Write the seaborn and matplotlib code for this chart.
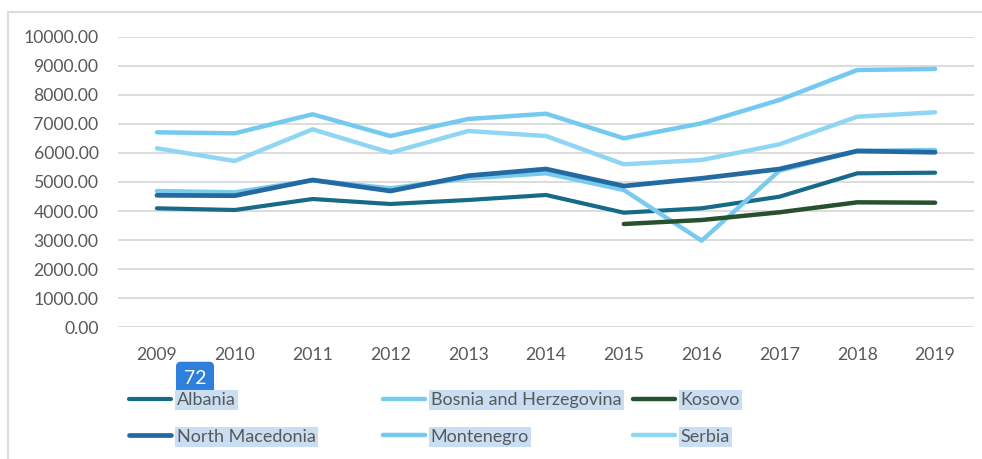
import pandas as pd
import numpy as np
import seaborn as sns
import matplotlib.pyplot as plt
from matplotlib.patches import Rectangle

years = [2009, 2010, 2011, 2012, 2013, 2014, 2015, 2016, 2017, 2018, 2019]

albania = [4095, 4036, 4415, 4243, 4381, 4553, 3944, 4095, 4494, 5299, 5320]
bosnia = [4690, 4645, 5060, 4783, 5127, 5299, 4725, 2980, 5389, 6070, 6101]
kosovo = [np.nan, np.nan, np.nan, np.nan, np.nan, np.nan, 3555, 3692, 3957, 4301, 4288]
north_macedonia = [4542, 4529, 5069, 4690, 5217, 5447, 4862, 5127, 5447, 6067, 6022]
montenegro = [6710, 6676, 7330, 6583, 7168, 7350, 6504, 7020, 7822, 8854, 8889]
serbia = [6160, 5723, 6813, 6009, 6755, 6583, 5609, 5757, 6297, 7247, 7398]

countries = ['Albania', 'Bosnia and Herzegovina', 'Kosovo',
             'North Macedonia', 'Montenegro', 'Serbia']
colors = ['#176b88', '#79cbee', '#27502f', '#236aa3', '#73c9ef', '#8fd5f4']
widths = [3.0, 3.2, 3.2, 3.4, 3.2, 3.2]

df = pd.DataFrame({'year': years, 'Albania': albania,
                   'Bosnia and Herzegovina': bosnia, 'Kosovo': kosovo,
                   'North Macedonia': north_macedonia,
                   'Montenegro': montenegro, 'Serbia': serbia})
long = df.melt(id_vars='year', var_name='country', value_name='value').dropna()

sns.set_theme(style='white')
plt.rcParams['font.family'] = ['Lato', 'DejaVu Sans']
grey = '#595959'

fig = plt.figure(figsize=(9.82, 4.59), dpi=100)
ax = fig.add_axes([118/982, 1-327.3/459, (974-118)/982, (327.3-36.7)/459])

for c, col, lw in zip(countries, colors, widths):
    sns.lineplot(data=long[long.country == c], x='year', y='value', color=col,
                 linewidth=lw, label=c, ax=ax, legend=False,
                 solid_capstyle='round')

ax.set_ylim(0, 10000)
ax.set_xlim(2008.5, 2019.5)
ax.set_yticks(np.arange(0, 10001, 1000))
ax.set_yticklabels([f'{v:.2f}' for v in np.arange(0, 10001, 1000)])
ax.set_xticks(years)
ax.set_xticklabels([str(y) for y in years])
ax.tick_params(axis='both', length=0, labelsize=12.7, labelcolor=grey)
ax.tick_params(axis='y', pad=14)
ax.tick_params(axis='x', pad=14)
ax.set_xlabel('')
ax.set_ylabel('')
ax.grid(axis='y', color='#d9d9d9', linewidth=1.3)
ax.set_axisbelow(True)
for s in ax.spines.values():
    s.set_visible(False)

# legend: three columns placed like the original
lines = {c: l for c, l in zip(countries, ax.get_lines())}
cols = [(['Albania', 'North Macedonia'], 129),
        (['Bosnia and Herzegovina', 'Montenegro'], 383),
        (['Kosovo', 'Serbia'], 633)]
for names, xpx in cols:
    leg = fig.legend([lines[n] for n in names], names, loc='upper left',
                     bbox_to_anchor=(xpx/982, 1-392/459), frameon=False,
                     fontsize=13, handlelength=2.3, handletextpad=0.35,
                     labelspacing=1.15, borderpad=0, borderaxespad=0)
    for t in leg.get_texts():
        t.set_color(grey)
        t.set_bbox(dict(facecolor='#c9ddf3', edgecolor='none', pad=1.5))

fig.text(195/982, 1-378/459, '72', color='white', fontsize=14,
         ha='center', va='center',
         bbox=dict(boxstyle='round,pad=0.4,rounding_size=0.25',
                   facecolor='#2f80dd', edgecolor='none'))

fig.patches.append(Rectangle((8/982, -0.1), 1.2, 1.1-12/459,
                             transform=fig.transFigure, fill=False,
                             edgecolor='#dcdcdc', linewidth=1.5))

fig.savefig('out.png', dpi=100)
